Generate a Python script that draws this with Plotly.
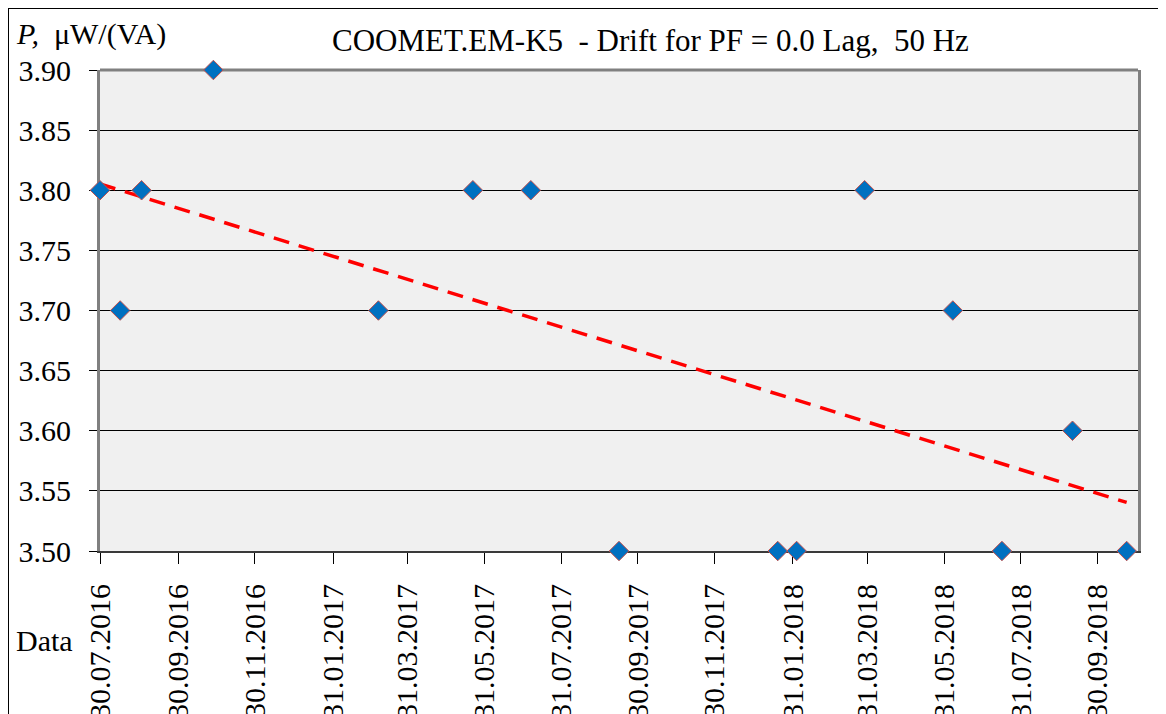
import numpy as np
import pandas as pd
import plotly.graph_objects as go

# ---- data ----
dates = ["2016-07-30", "2016-08-15", "2016-09-01", "2016-10-28", "2017-03-08",
         "2017-05-22", "2017-07-07", "2017-09-15", "2018-01-19", "2018-02-03",
         "2018-03-29", "2018-06-07", "2018-07-16", "2018-09-10", "2018-10-23"]
values = [3.80, 3.70, 3.80, 3.90, 3.70,
          3.80, 3.80, 3.50, 3.50, 3.50,
          3.80, 3.70, 3.50, 3.60, 3.50]

tick_dates = ["2016-07-30", "2016-09-30", "2016-11-30", "2017-01-31", "2017-03-31",
              "2017-05-31", "2017-07-31", "2017-09-30", "2017-11-30", "2018-01-31",
              "2018-03-31", "2018-05-31", "2018-07-31", "2018-09-30"]
tick_labels = [pd.Timestamp(d).strftime("%d.%m.%Y") for d in tick_dates]

x_range = ["2016-07-30", "2018-11-01"]
y_ticks = [3.50, 3.55, 3.60, 3.65, 3.70, 3.75, 3.80, 3.85, 3.90]

title_text = "COOMET.EM-K5&nbsp; - Drift for PF = 0.0 Lag,&nbsp; 50 Hz"
y_title = "<i>P,</i>&nbsp; μW/(VA)"
x_title = "Data"

# ---- linear trend (least squares) ----
dt = pd.to_datetime(dates)
days = np.array([(d - dt[0]).days for d in dt], dtype=float)
slope, intercept = np.polyfit(days, np.array(values), 1)
trend_x = [dt[0], dt[-1]]
trend_y = [intercept, intercept + slope * days[-1]]

FONT = "Liberation Serif"
W, H = 1166, 714
OFF = 8  # page body margin
# plot area in page pixels: x 100..1138, y 70..551
L = 100 - OFF
R = W - (1138 - OFF)
T = 70 - OFF
B = H - (551 - OFF)
pw, ph = W - L - R, H - T - B


def px_x(p):  # page pixel -> paper fraction
    return (p - OFF - L) / pw


def px_y(p):
    return (H - B - (p - OFF)) / ph


fig = go.Figure()
fig.add_trace(go.Scatter(
    x=trend_x, y=trend_y, mode="lines",
    line=dict(color="#FF0000", width=3.5, dash="16px,10px"),
    hoverinfo="skip", showlegend=False, cliponaxis=False))
fig.add_trace(go.Scatter(
    x=dates, y=values, mode="markers",
    marker=dict(symbol="diamond", size=15, color="#0070C0",
                line=dict(color="#C0504D", width=1)),
    showlegend=False, cliponaxis=False))

fig.update_layout(
    width=W, height=H,
    margin=dict(l=L, r=R, t=T, b=B, pad=0),
    paper_bgcolor="white", plot_bgcolor="#F0F0F0",
    font=dict(family=FONT, size=30, color="black"),
    xaxis=dict(type="date", range=x_range, tickmode="array",
               tickvals=tick_dates, ticktext=tick_labels, tickangle=-90,
               ticks="outside", ticklen=11, tickcolor="black", tickwidth=1,
               ticklabelstandoff=8,
               showgrid=False, zeroline=False, showline=True,
               linecolor="#3A3A3A", linewidth=2, mirror=False,
               layer="below traces", automargin=False,
               tickfont=dict(family=FONT, size=30, color="black")),
    yaxis=dict(range=[3.5, 3.9], tickmode="array", tickvals=y_ticks,
               ticktext=[f"{v:.2f}" for v in y_ticks],
               ticks="outside", ticklen=8, tickcolor="black", tickwidth=1,
               ticklabelstandoff=12,
               showgrid=True, gridcolor="black", gridwidth=1,
               zeroline=False, showline=True, linecolor="#808080",
               linewidth=3, mirror=True, layer="below traces",
               automargin=False,
               tickfont=dict(family=FONT, size=30, color="black")),
    annotations=[
        dict(text=title_text, xref="paper", yref="paper",
             x=px_x(650), y=px_y(40), xanchor="center", yanchor="middle",
             showarrow=False, font=dict(family=FONT, size=31, color="black")),
        dict(text=y_title, xref="paper", yref="paper",
             x=px_x(14), y=px_y(34), xanchor="left", yanchor="middle",
             showarrow=False, font=dict(family=FONT, size=30, color="black")),
        dict(text=x_title, xref="paper", yref="paper",
             x=px_x(14), y=px_y(640), xanchor="left", yanchor="middle",
             showarrow=False, font=dict(family=FONT, size=30, color="black")),
    ],
    shapes=[
        dict(type="line", xref="paper", yref="paper", layer="between",
             x0=0, x1=1, y0=1, y1=1,
             line=dict(color="#808080", width=3)),
        dict(type="rect", xref="paper", yref="paper", layer="above",
             x0=px_x(8), y0=px_y(H + 30), x1=px_x(W + 30), y1=px_y(8),
             line=dict(color="black", width=2), fillcolor="rgba(0,0,0,0)"),
    ],
)

fig.write_html("out.html")
